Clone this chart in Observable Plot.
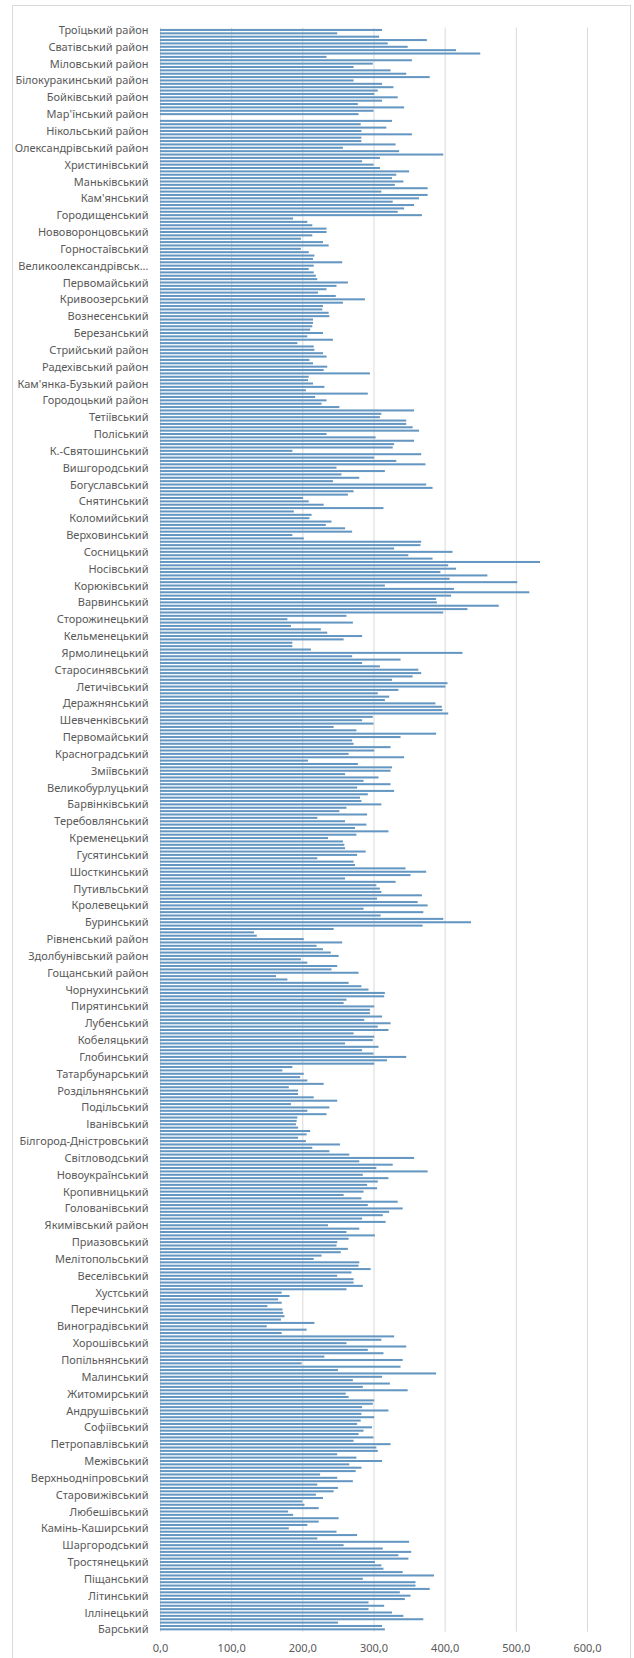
<!DOCTYPE html>
<html><head><meta charset="utf-8">
<script src="https://cdn.jsdelivr.net/npm/d3@7"></script>
<script src="https://cdn.jsdelivr.net/npm/@observablehq/plot@0.6"></script>
<style>
html,body{margin:0;padding:0;background:#fff;overflow:hidden;width:634px;height:1658px;}
#frame{position:absolute;left:12px;top:5px;width:619px;height:1700px;border:1px solid #d9d9d9;box-sizing:border-box;}
#chart{position:absolute;left:0;top:0;}
</style></head><body><div id="frame"></div><div id="chart"></div>
<script>
// Category labels shown on the axis (every 5th district, top to bottom)
const labels = [
"Троїцький район","Сватівський район","Міловський район","Білокуракинський район","Бойківський район",
"Мар'їнський район","Нікольський район","Олександрівський район","Христинівський","Маньківський",
"Кам'янський","Городищенський","Нововоронцовський","Горностаївський","Великоолександрівськ...",
"Первомайський","Кривоозерський","Вознесенський","Березанський","Стрийський район",
"Радехівський район","Кам'янка-Бузький район","Городоцький район","Тетіївський","Поліський",
"К.-Святошинський","Вишгородський","Богуславський","Снятинський","Коломийський",
"Верховинський","Сосницький","Носівський","Корюківський","Варвинський",
"Сторожинецький","Кельменецький","Ярмолинецький","Старосинявський","Летичівський",
"Деражнянський","Шевченківський","Первомайський","Красноградський","Зміївський",
"Великобурлуцький","Барвінківський","Теребовлянський","Кременецький","Гусятинський",
"Шосткинський","Путивльський","Кролевецький","Буринський","Рівненський район",
"Здолбунівський район","Гощанський район","Чорнухинський","Пирятинський","Лубенський",
"Кобеляцький","Глобинський","Татарбунарський","Роздільнянський","Подільський",
"Іванівський","Білгород-Дністровський","Світловодський","Новоукраїнський","Кропивницький",
"Голованівський","Якимівський район","Приазовський","Мелітопольський","Веселівський",
"Хустський","Перечинський","Виноградівський","Хорошівський","Попільнянський",
"Малинський","Житомирський","Андрушівський","Софіївський","Петропавлівський",
"Межівський","Верхньодніпровський","Старовижівський","Любешівський","Камінь-Каширський",
"Шаргородський","Тростянецький","Піщанський","Літинський","Іллінецький","Барський"
];
// Bar values, top to bottom (one per district)
const values = [
312,249,308,375,320,348,416,450,234,354,299,272,324,346,379,272,312,328,306,301,334,312,278,343,300,279,null,326,282,318,283,354,283,283,331,257,336,398,309,284,300,309,350,332,326,342,330,376,311,376,
364,327,357,343,334,368,187,207,214,234,234,214,198,229,237,198,209,217,215,256,216,209,216,219,221,264,248,234,222,247,288,257,229,228,237,238,215,215,214,211,229,207,243,193,216,217,229,234,210,215,
235,230,295,209,208,215,231,205,292,218,234,227,252,357,311,309,346,346,355,364,234,303,357,329,327,186,367,301,332,373,248,316,255,280,243,374,383,272,264,201,209,230,314,188,213,210,241,233,260,270,
186,202,367,366,329,411,349,383,534,405,416,394,460,407,502,316,413,519,409,388,389,476,432,398,262,179,271,184,226,235,284,258,186,186,212,425,270,338,284,309,363,367,355,326,404,401,335,306,322,316,387,396,397,405,
299,284,300,244,276,388,338,270,272,324,301,265,343,208,278,326,324,260,307,286,324,277,329,292,281,283,311,262,252,291,221,260,290,274,321,276,236,257,259,260,289,277,221,272,274,345,374,352,260,331,304,309,311,368,
305,362,376,286,370,310,398,437,369,244,132,136,202,256,220,229,240,251,198,207,249,241,279,163,179,265,283,293,316,315,262,258,301,295,295,312,287,324,306,321,272,301,299,260,307,284,300,346,319,301,186,172,202,197,
207,230,181,194,194,216,249,184,238,207,234,193,192,191,194,211,206,194,205,253,214,238,266,357,280,327,304,376,285,321,306,291,305,286,258,283,334,292,341,322,313,284,317,236,280,262,302,265,249,248,264,254,227,216,
280,279,296,269,249,272,272,285,262,171,182,166,171,151,172,173,175,170,217,150,206,171,329,311,262,346,292,314,231,341,199,338,250,388,312,271,323,285,348,261,265,301,299,284,321,283,301,282,277,298,286,279,300,272,
324,304,306,249,276,312,266,283,275,225,249,271,221,250,244,219,229,200,203,223,180,187,251,223,207,181,248,277,221,350,258,313,353,335,349,302,311,314,341,385,285,359,359,379,337,352,344,293,315,293,326,342,370,250,312,316
];
const xTicks = [0,100,200,300,400,500,600];
const labelEvery = 5;

const rows = values.map((v, i) => ({k: i, v})).filter(d => d.v != null);
const yDomain = d3.range(values.length);
const yTicks = d3.range(0, values.length, labelEvery);

const chart = Plot.plot({
  width: 634,
  height: 1658,
  marginLeft: 160,
  marginRight: 47,
  marginTop: 27.6,
  marginBottom: 26.3,
  style: {fontFamily: "'Noto Sans', sans-serif", fontSize: "11px", color: "#595959", background: "transparent"},
  x: {domain: [0, 600], label: null},
  y: {domain: yDomain, padding: 0.4, label: null},
  marks: [
    Plot.gridX(xTicks, {stroke: "#d9d9d9", strokeOpacity: 1}),
    Plot.barX(rows, {x: "v", y: "k", fill: "#6496c2"}),
    Plot.axisX(xTicks, {tickSize: 0, tickPadding: 12, label: null, tickFormat: d => d.toFixed(1).replace(".", ","), fontSize: 11, fill: "#595959"}),
    Plot.axisY(yTicks, {tickSize: 0, tickPadding: 12, label: null, tickFormat: k => labels[k / labelEvery], fontSize: 11, fill: "#595959"})
  ]
});
document.getElementById("chart").appendChild(chart);
</script>
</body></html>
